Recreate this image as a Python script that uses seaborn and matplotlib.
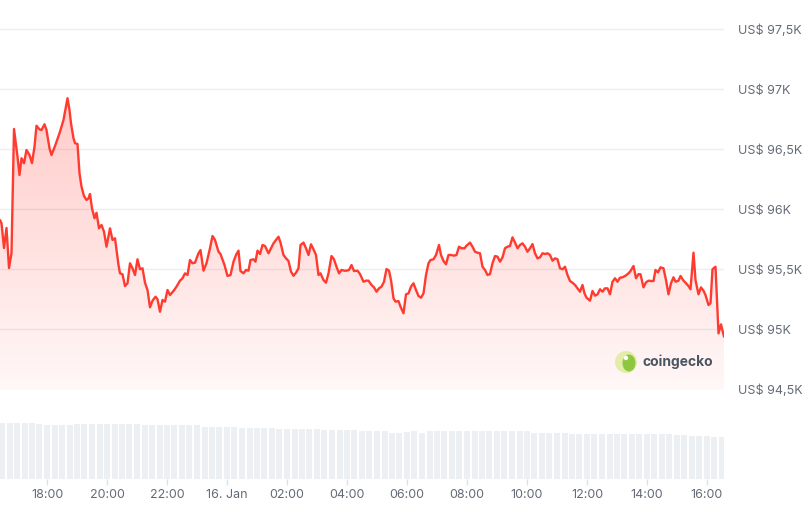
import numpy as np
import pandas as pd
import matplotlib
matplotlib.use("Agg")
import matplotlib.pyplot as plt
import matplotlib.dates as mdates
from matplotlib.colors import LinearSegmentedColormap
from matplotlib.patches import Circle, Ellipse
from matplotlib.transforms import IdentityTransform
import seaborn as sns

# BTC price, last 24h (minutes after 15 Jan 16:26)
start = pd.Timestamp("2025-01-15 16:26")
minutes = [
    0, 3, 8, 13, 18, 23, 28, 35, 39, 43,
    48, 53, 59, 64, 69, 73, 79, 83, 89, 93,
    99, 103, 110, 119, 127, 130, 135, 139, 142, 147,
    150, 155, 159, 163, 168, 173, 177, 180, 184, 189,
    193, 198, 203, 208, 213, 220, 225, 230, 237, 240,
    245, 250, 255, 260, 265, 270, 275, 280, 285, 290,
    295, 300, 305, 311, 315, 320, 325, 330, 335, 340,
    347, 353, 360,
    365, 370, 375, 380, 385, 390, 397, 401, 407, 413,
    420, 425, 430, 437, 441, 449, 455, 461, 467, 472,
    477, 481, 487, 492, 497, 501, 507, 511, 515, 520,
    525, 530, 537, 541, 547, 553, 557, 561, 567, 572,
    577, 582, 587, 592, 597, 601, 607, 612, 617, 622,
    627, 632, 637, 641, 647, 652, 657, 663, 668, 673,
    678, 683, 689, 693, 698, 703, 708, 715, 720,
    727, 732, 737, 743, 748, 753, 758, 763, 768, 773,
    778, 782, 787, 791, 797, 801, 807, 812, 817, 822,
    827, 832, 837, 842, 847, 852, 857, 861, 867, 872,
    878, 882, 887, 892, 897, 902, 908, 913, 918, 923,
    929, 933, 940, 945, 950, 955, 960, 965, 970, 975,
    980, 985, 990, 995, 1000, 1005, 1010, 1015, 1020, 1025,
    1030, 1035, 1040, 1045, 1050, 1055, 1060, 1065, 1070, 1075,
    1080,
    1085, 1090, 1095, 1100, 1105, 1110, 1115, 1120, 1125, 1130,
    1135, 1140, 1145, 1150, 1155, 1160, 1165, 1169, 1173, 1180,
    1185, 1190, 1195, 1200, 1205, 1210, 1215, 1220, 1225, 1230,
    1235, 1240, 1245, 1251, 1257, 1261, 1267, 1272, 1277, 1281,
    1287, 1292, 1297, 1302, 1307, 1311, 1316, 1321, 1327, 1332,
    1337, 1342, 1347, 1351, 1357, 1361, 1367, 1371, 1377, 1381,
    1387, 1391, 1397, 1402, 1407, 1411, 1417, 1421, 1425, 1431,
    1437, 1442, 1448,
]
prices = [
    95912, 95885, 95679, 95846, 95512, 95637, 96671, 96440, 96287, 96427,
    96385, 96496, 96454, 96387, 96523, 96698, 96668, 96662, 96710, 96662,
    96510, 96454, 96529, 96635, 96746, 96815, 96927, 96829, 96718, 96593,
    96552, 96546, 96302, 96190, 96112, 96079, 96093, 96129, 96010, 95927,
    95973, 95843, 95871, 95815, 95690, 95843, 95746, 95760, 95537, 95468,
    95460, 95362, 95385, 95552, 95510, 95454, 95585, 95502, 95510, 95390,
    95329, 95185, 95240, 95273, 95252, 95148, 95246, 95232, 95329, 95287,
    95321, 95357, 95407,
    95427, 95468, 95454, 95579, 95552, 95557, 95635, 95662, 95490, 95552,
    95677, 95779, 95746, 95648, 95629, 95537, 95446, 95454, 95565, 95621,
    95657, 95487, 95468, 95496, 95490, 95579, 95585, 95565, 95657, 95629,
    95704, 95696, 95635, 95668, 95718, 95752, 95773, 95724, 95621, 95593,
    95571, 95482, 95448, 95473, 95510, 95704, 95724, 95677, 95621, 95710,
    95668, 95621, 95454, 95468, 95412, 95390, 95468, 95612, 95585, 95523,
    95468, 95496, 95490, 95490, 95496, 95537, 95487, 95490, 95462,
    95398, 95407, 95407, 95371, 95351, 95315, 95343, 95357, 95398, 95504,
    95490, 95412, 95260, 95232, 95237, 95190, 95135, 95293, 95301, 95357,
    95385, 95329, 95279, 95265, 95301, 95454, 95552, 95579, 95585, 95621,
    95704, 95621, 95571, 95543, 95621, 95621, 95615, 95621, 95690, 95677,
    95677, 95698, 95724, 95690, 95648, 95640, 95635, 95523, 95496, 95454,
    95462, 95552, 95612, 95607, 95565, 95601, 95677, 95690, 95696, 95768,
    95724, 95677, 95704, 95718, 95690, 95648, 95677, 95712, 95635, 95593,
    95601,
    95635, 95629, 95635, 95621, 95573, 95593, 95585, 95510, 95502, 95523,
    95454, 95404, 95390, 95371, 95343, 95315, 95371, 95301, 95265, 95240,
    95321, 95282, 95293, 95335, 95315, 95343, 95343, 95293, 95398, 95427,
    95398, 95432, 95435, 95448, 95468, 95487, 95529, 95427, 95462, 95460,
    95351, 95393, 95407, 95404, 95404, 95496, 95476, 95518, 95510, 95412,
    95293, 95385, 95435, 95398, 95407, 95446, 95407, 95390, 95362, 95335,
    95640, 95412, 95293, 95351, 95323, 95287, 95204, 95218, 95502, 95523,
    94968, 95043, 94940,
]

# 24h trading volume (bn USD), one bar every 15 minutes from 15 Jan 16:30
vol_start = pd.Timestamp("2025-01-15 16:30")
volume_bn = [
    56.0, 56.3, 56.5, 56.4, 56.2, 54.6, 54.5, 54.5, 54.4, 54.5,
    54.6, 55.0, 55.1, 55.0, 55.0, 54.9, 55.0, 55.1, 55.0, 54.1,
    54.0, 54.0, 54.2, 54.0, 53.7, 53.8, 53.6, 52.5, 52.4, 52.4,
    52.3, 52.4, 51.5, 51.4, 51.4, 51.3, 51.4, 50.5, 50.4, 50.4,
    50.3, 50.4, 50.3, 49.1, 49.0, 49.0, 48.9, 49.0, 48.1, 48.0,
    48.0, 47.9, 45.6, 45.7, 47.5, 48.0, 46.0, 48.0, 48.1, 48.0,
    48.0, 47.9, 48.0, 48.1, 48.0, 48.0, 47.9, 48.0, 48.0, 47.9,
    48.0, 46.3, 46.3, 46.2, 46.3, 46.3, 45.3, 45.3, 45.4, 45.3,
    45.3, 45.2, 45.3, 45.3, 45.4, 45.3, 45.3, 45.2, 45.3, 45.3,
    43.6, 43.6, 43.5, 43.4, 43.0, 42.5, 42.0,
]

price_ticks = [94500, 95000, 95500, 96000, 96500, 97000, 97500]
price_labels = ["US$ 94,5K", "US$ 95K", "US$ 95,5K", "US$ 96K",
                "US$ 96,5K", "US$ 97K", "US$ 97,5K"]
time_ticks = ["2025-01-15 18:00", "2025-01-15 20:00", "2025-01-15 22:00",
              "2025-01-16 00:00", "2025-01-16 02:00", "2025-01-16 04:00",
              "2025-01-16 06:00", "2025-01-16 08:00", "2025-01-16 10:00",
              "2025-01-16 12:00", "2025-01-16 14:00", "2025-01-16 16:00"]
time_labels = ["18:00", "20:00", "22:00", "16. Jan", "02:00", "04:00",
               "06:00", "08:00", "10:00", "12:00", "14:00", "16:00"]

RED = "#ff3b30"
GRID = "#eceef1"
TEXT = "#646b76"

sns.set_theme(style="white")
plt.rcParams["font.family"] = ["Inter", "DejaVu Sans"]

times = start + pd.to_timedelta(minutes, unit="min")
vol_times = pd.date_range(vol_start, periods=len(volume_bn), freq="15min")
t0 = start
t1 = start + pd.Timedelta(minutes=1448)

W, H = 812, 516
fig = plt.figure(figsize=(W / 100, H / 100), dpi=100)
fig.patch.set_facecolor("white")

# price panel
ax = fig.add_axes([0, (H - 389.5) / H, 724 / W, 369.5 / H])
ax.set_facecolor("none")
ymin, ymax = 94500, 97579

sns.lineplot(x=times, y=prices, ax=ax, color=RED, linewidth=1.7, zorder=3)

# gradient fill under the line
poly = ax.fill_between(times, prices, ymin, color="none", linewidth=0)
cmap = LinearSegmentedColormap.from_list(
    "fade", [(1, 0.23, 0.19, 0.04), (1, 0.23, 0.19, 0.27)])
grad = np.linspace(1, 0, 256).reshape(-1, 1)
x0n, x1n = mdates.date2num(t0), mdates.date2num(t1)
img = ax.imshow(grad, cmap=cmap, aspect="auto", origin="upper",
                extent=[x0n, x1n, ymin, 97000], zorder=2)
img.set_clip_path(poly.get_paths()[0], transform=ax.transData)

ax.set_xlim(t0, t1)
ax.set_ylim(ymin, ymax)
ax.set_yticks(price_ticks)
ax.set_yticklabels(price_labels)
ax.yaxis.tick_right()
ax.tick_params(axis="y", length=0, pad=10, labelsize=9, labelcolor=TEXT)
ax.set_xticks([])
ax.grid(axis="y", color=GRID, linewidth=1)
ax.set_axisbelow(True)
ax.set_xlabel("")
ax.set_ylabel("")
for s in ax.spines.values():
    s.set_visible(False)

# coingecko mark
ax.add_patch(Circle((626, H - 362), 11, transform=IdentityTransform(),
                    facecolor="#e3eda8", edgecolor="none", zorder=5, clip_on=False))
ax.add_patch(Ellipse((629, H - 363), 13, 17, transform=IdentityTransform(),
                     facecolor="#8dc63f", edgecolor="none", zorder=6, clip_on=False))
ax.add_patch(Circle((626, H - 358), 2.2, transform=IdentityTransform(),
                    facecolor="white", edgecolor="none", zorder=7, clip_on=False))
fig.text(643 / W, 1 - 362 / H, "coingecko", ha="left", va="center",
         fontsize=10, fontweight="bold", color="#4b5563")

# volume panel
axv = fig.add_axes([0, (H - 479) / H, 724 / W, 79 / H])
axv.bar(vol_times, volume_bn, width=pd.Timedelta(minutes=12),
        color="#edf0f3", linewidth=0)
axv.set_xlim(t0, t1)
axv.set_ylim(0, 79)
axv.set_yticks([])
axv.set_xticks(pd.to_datetime(time_ticks))
axv.set_xticklabels(time_labels)
axv.tick_params(axis="x", bottom=True, length=4.5, width=1, color="#dde1e6",
                pad=3, labelsize=9, labelcolor=TEXT)
for s in axv.spines.values():
    s.set_visible(False)

fig.savefig("out.png", dpi=100)
